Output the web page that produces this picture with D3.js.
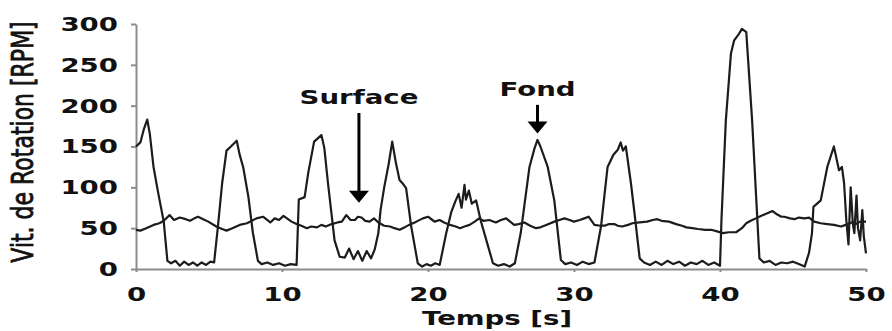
<!DOCTYPE html>
<html>
<head>
<meta charset="utf-8">
<script src="https://cdn.jsdelivr.net/npm/d3@7/dist/d3.min.js"></script>
<style>
  body { margin: 0; background: #fff; }
  svg { display: block; }
</style>
</head>
<body>
<svg id="chart" width="892" height="331"></svg>
<script>
// Fond : grandes oscillations
const tempsFond = [0, 0.3, 0.55, 0.77, 0.95, 1.2, 1.5, 1.9, 2.15, 2.4, 2.7, 3.0, 3.3, 3.6, 3.9, 4.2, 4.5, 4.8, 5.1, 5.35,
  5.6, 5.9, 6.2, 6.5, 6.9, 7.1, 7.35, 7.7, 8.0, 8.35, 8.6, 9.0, 9.4, 9.8, 10.2, 10.6, 11.0, 11.15, 11.55, 11.8,
  12.2, 12.7, 12.9, 13.15, 13.6, 13.95, 14.3, 14.6, 14.9, 15.2, 15.5, 15.8, 16.1, 16.35, 16.6, 16.75, 17.0, 17.3, 17.55, 17.8,
  18.05, 18.3, 18.5, 18.85, 19.3, 19.6, 19.9, 20.2, 20.5, 20.8, 21.25, 21.6, 21.9, 22.1, 22.3, 22.5, 22.6, 22.8, 23.0, 23.3,
  23.6, 24.0, 24.45, 24.8, 25.2, 25.6, 25.95, 26.35, 26.95, 27.3, 27.5, 27.7, 28.2, 28.65, 29.1, 29.4, 29.8, 30.2, 30.6, 31.0,
  31.4, 31.85, 32.3, 32.7, 33.0, 33.2, 33.35, 33.55, 33.9, 34.1, 34.5, 34.8, 35.2, 35.6, 36.0, 36.4, 36.8, 37.2, 37.6, 38.0,
  38.4, 38.8, 39.2, 39.6, 40.0, 40.1, 40.4, 40.75, 40.97, 41.3, 41.5, 41.8, 42.2, 42.5, 42.7, 43.0, 43.4, 43.8, 44.2, 44.6,
  45.0, 45.4, 45.8, 46.1, 46.3, 46.4, 46.9, 47.35, 47.8, 48.15, 48.35, 48.5, 48.65, 48.8, 48.95, 49.1, 49.2, 49.35, 49.45, 49.6,
  49.75, 49.85, 50.0];
const vitesseFond = [150, 155, 172, 183, 165, 125, 95, 58, 10, 7, 10, 4, 9, 5, 8, 4, 8, 5, 9, 8,
  50, 105, 145, 150, 157, 140, 124, 88, 45, 10, 6, 8, 5, 7, 4, 6, 5, 85, 88, 118,
  156, 164, 148, 105, 35, 15, 14, 25, 12, 22, 10, 22, 13, 24, 44, 72, 100, 128, 156, 130,
  109, 104, 99, 52, 7, 3, 6, 4, 7, 5, 44, 70, 84, 92, 75, 103, 85, 96, 80, 84,
  60, 35, 7, 4, 6, 3, 7, 44, 125, 148, 158, 150, 125, 84, 11, 6, 8, 5, 9, 6,
  8, 52, 125, 140, 146, 155, 145, 150, 105, 75, 13, 8, 5, 9, 5, 10, 6, 9, 4, 8,
  6, 10, 5, 8, 4, 60, 182, 264, 280, 288, 294, 290, 182, 80, 13, 8, 10, 5, 8, 7,
  9, 6, 3, 20, 44, 76, 84, 125, 150, 121, 125, 105, 60, 30, 100, 55, 44, 90, 50, 35,
  72, 40, 19];

// Surface : vitesse lente autour de 55
const tempsSurface = [0, 0.3, 0.7, 1.2, 1.6, 1.9, 2.3, 2.6, 3.0, 3.4, 3.7, 4.0, 4.25, 4.6, 4.95, 5.5, 5.9, 6.2, 6.6, 7.1,
  7.6, 8.25, 8.7, 9.2, 9.5, 9.8, 10.1, 10.65, 11.0, 11.33, 11.7, 12.0, 12.4, 12.7, 13.0, 13.4, 13.8, 14.1, 14.4, 14.7,
  15.0, 15.2, 15.45, 15.7, 16.0, 16.3, 16.6, 17.0, 17.4, 17.7, 18.06, 18.4, 18.7, 19.2, 19.65, 20.0, 20.3, 20.45, 20.8, 21.1,
  21.5, 21.9, 22.2, 22.5, 22.85, 23.2, 23.5, 23.8, 24.2, 24.65, 25.0, 25.35, 25.9, 26.2, 26.6, 27.0, 27.4, 27.7, 28.1, 28.66,
  29.0, 29.35, 29.7, 30.0, 30.4, 30.7, 31.0, 31.4, 31.8, 32.1, 32.4, 32.76, 33.0, 33.3, 33.7, 34.0, 34.5, 35.0, 35.4, 35.7,
  36.0, 36.5, 37.0, 37.4, 37.7, 38.1, 38.5, 39.0, 39.4, 39.8, 40.2, 40.6, 41.1, 41.5, 41.8, 42.1, 42.45, 42.8, 43.2, 43.6,
  43.9, 44.2, 44.4, 44.8, 45.1, 45.4, 45.8, 46.1, 46.45, 46.9, 47.35, 47.8, 48.3, 48.6, 49.0, 49.3, 49.6, 50.0];
const vitesseSurface = [48, 47, 50, 54, 56, 59, 66, 60, 63, 61, 59, 62, 64, 61, 58, 52, 49, 47, 50, 54,
  56, 62, 64, 57, 62, 60, 65, 58, 55, 53, 50, 52, 51, 54, 52, 55, 57, 58, 66, 60,
  60, 64, 63, 59, 58, 62, 57, 53, 52, 50, 48, 51, 54, 58, 62, 64, 60, 58, 60, 57,
  54, 52, 50, 52, 54, 58, 62, 59, 60, 57, 60, 62, 54, 55, 57, 53, 50, 51, 54, 58,
  60, 62, 60, 58, 60, 62, 64, 54, 53, 53, 55, 55, 53, 52, 54, 56, 57, 58, 60, 61,
  59, 58, 55, 53, 51, 50, 49, 48, 48, 46, 44, 45, 45, 50, 56, 59, 62, 65, 68, 71,
  67, 64, 64, 62, 61, 63, 62, 63, 58, 56, 55, 54, 52, 54, 57, 55, 58, 58];

const xTicks = [0, 10, 20, 30, 40, 50];
const yTicks = [0, 50, 100, 150, 200, 250, 300];

// annotations (temps, pointe de la flèche, haut de la flèche)
const annotLabels = ["Surface", "Fond"];
const annotTemps = [15.27, 27.5];
const annotPointe = [81, 166];
const annotHaut = [191, 201];

const svg = d3.select("#chart");
const font = "'DejaVu Sans', Verdana, sans-serif";
const stretch = 1.38;

const x = d3.scaleLinear().domain([0, 50]).range([136, 866]);
const y = d3.scaleLinear().domain([0, 300]).range([269, 24]);

// axe Y
const gy = svg.append("g")
  .attr("transform", "translate(136,0)")
  .call(d3.axisLeft(y).tickValues(yTicks).tickSize(5).tickSizeOuter(0));
gy.select(".domain").attr("stroke", "#8c8c8c").attr("stroke-width", 2);
gy.selectAll(".tick line").attr("stroke", "#8c8c8c").attr("stroke-width", 2);
gy.selectAll(".tick text")
  .attr("x", 0)
  .attr("transform", "translate(-18,0) scale(" + stretch + ",1)")
  .attr("fill", "#111")
  .style("font-family", font)
  .style("font-size", "20px")
  .style("font-weight", "bold");

// axe X
const gx = svg.append("g")
  .attr("transform", "translate(0,269)")
  .call(d3.axisBottom(x).tickValues(xTicks).tickSize(3).tickSizeOuter(0));
gx.select(".domain").attr("stroke", "#8c8c8c").attr("stroke-width", 2);
gx.selectAll(".tick line").attr("stroke", "#8c8c8c").attr("stroke-width", 2);
gx.selectAll(".tick text")
  .attr("y", 0)
  .attr("dy", 0)
  .attr("transform", "translate(0,32) scale(" + stretch + ",1)")
  .attr("fill", "#111")
  .style("font-family", font)
  .style("font-size", "20px")
  .style("font-weight", "bold");

// titres des axes
svg.append("text")
  .attr("text-anchor", "middle")
  .attr("transform", "translate(497,325) scale(" + stretch + ",1)")
  .attr("fill", "#111")
  .style("font-family", font)
  .style("font-size", "20px")
  .style("font-weight", "bold")
  .text("Temps [s]");

svg.append("text")
  .attr("text-anchor", "middle")
  .attr("dy", "0.35em")
  .attr("transform", "translate(22,142) rotate(-90) scale(1,1.4)")
  .attr("fill", "#111")
  .attr("stroke", "#111")
  .attr("stroke-width", 0.6)
  .style("font-family", font)
  .style("font-size", "22px")
  .text("Vit. de Rotation [RPM]");

// courbes
const line = d3.line().x(d => x(d[0])).y(d => y(d[1]));

svg.append("path")
  .datum(tempsSurface.map((t, i) => [t, vitesseSurface[i]]))
  .attr("d", line)
  .attr("fill", "none")
  .attr("stroke", "#1c1c1c")
  .attr("stroke-width", 2.2)
  .attr("stroke-linejoin", "round");

svg.append("path")
  .datum(tempsFond.map((t, i) => [t, vitesseFond[i]]))
  .attr("d", line)
  .attr("fill", "none")
  .attr("stroke", "#1c1c1c")
  .attr("stroke-width", 2.2)
  .attr("stroke-linejoin", "round");

// flèches et étiquettes
annotLabels.forEach((lab, i) => {
  const ax = x(annotTemps[i]);
  const yTip = y(annotPointe[i]);
  const yTop = y(annotHaut[i]);
  svg.append("line")
    .attr("x1", ax).attr("x2", ax)
    .attr("y1", yTop).attr("y2", yTip - 8)
    .attr("stroke", "#000")
    .attr("stroke-width", 3);
  svg.append("path")
    .attr("d", "M" + (ax - 10) + "," + (yTip - 12) + "L" + (ax + 10) + "," + (yTip - 12) + "L" + ax + "," + yTip + "Z")
    .attr("fill", "#000");
  svg.append("text")
    .attr("text-anchor", "middle")
    .attr("transform", "translate(" + ax + "," + (yTop - 9) + ") scale(" + stretch + ",1)")
    .attr("fill", "#111")
    .style("font-family", font)
    .style("font-size", "20px")
    .style("font-weight", "bold")
    .text(lab);
});
</script>
</body>
</html>
